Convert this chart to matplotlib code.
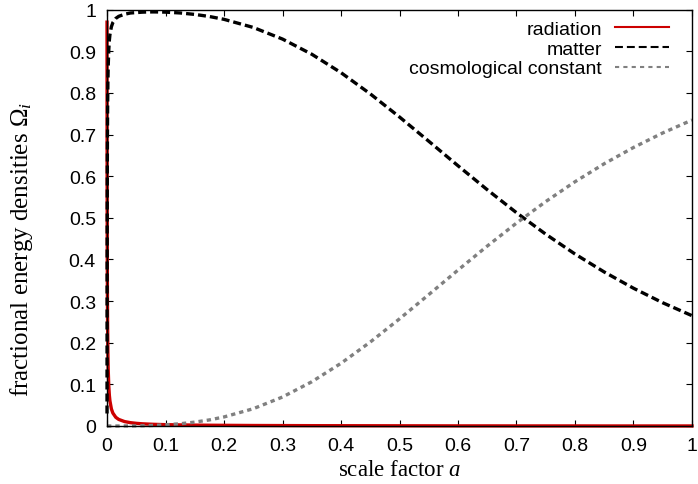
import matplotlib
matplotlib.use("Agg")
import matplotlib.pyplot as plt
from matplotlib.lines import Line2D

# values
scale_factor = [1e-5, 2e-5, 5e-5, 1e-4, 2e-4, 3e-4, 5e-4, 7.5e-4,
                0.001, 0.0015, 0.002, 0.003, 0.004, 0.005, 0.0075,
                0.01, 0.015, 0.02, 0.03, 0.04, 0.05, 0.06, 0.07, 0.08, 0.09, 0.1,
                0.125, 0.15, 0.175, 0.2, 0.25, 0.3, 0.35, 0.4, 0.45, 0.5,
                0.55, 0.6, 0.65, 0.7, 0.75, 0.8, 0.85, 0.9, 0.95, 1.0]
radiation = [0.970, 0.941, 0.865, 0.762, 0.616, 0.517, 0.391, 0.300,
             0.243, 0.176, 0.138, 0.0966, 0.0742, 0.0603, 0.0410,
             0.0311, 0.0209, 0.0158, 0.0106, 0.0080, 0.0064, 0.0053, 0.0046, 0.0040, 0.0036, 0.0032,
             0.0026, 0.0021, 0.0018, 0.0016, 0.0012, 0.0010, 0.0008, 0.0007, 0.0006, 0.0005,
             0.0004, 0.0003, 0.0003, 0.0002, 0.0002, 0.0002, 0.0001, 0.0001, 0.0001, 0.0001]
matter = [0.030, 0.059, 0.135, 0.238, 0.384, 0.483, 0.609, 0.700,
          0.757, 0.824, 0.862, 0.903, 0.926, 0.940, 0.959,
          0.969, 0.979, 0.984, 0.989, 0.992, 0.993, 0.994, 0.9945, 0.9946, 0.9944, 0.9941,
          0.9921, 0.9886, 0.9836, 0.9768, 0.9573, 0.9294, 0.8930, 0.8487, 0.7978, 0.7422,
          0.6840, 0.6251, 0.5675, 0.5123, 0.4607, 0.4131, 0.3699, 0.3309, 0.2960, 0.2650]
cosmo_const = [0, 0, 0, 0, 0, 0, 0, 0,
               0, 0, 0, 0, 0, 0, 0,
               0, 0, 0, 0.0001, 0.0002, 0.0003, 0.0006, 0.0009, 0.0014, 0.0020, 0.0028,
               0.0054, 0.0093, 0.0146, 0.0217, 0.0415, 0.0696, 0.1062, 0.1506, 0.2016, 0.2573,
               0.3156, 0.3745, 0.4322, 0.4874, 0.5391, 0.5867, 0.6300, 0.6690, 0.7039, 0.7349]
ticks = [0, 0.1, 0.2, 0.3, 0.4, 0.5, 0.6, 0.7, 0.8, 0.9, 1]
tick_labels = ["0", "0.1", "0.2", "0.3", "0.4", "0.5", "0.6", "0.7", "0.8", "0.9", "1"]

RED = "#cc0000"
GRAY = "#808080"

plt.rcParams["font.family"] = ["Liberation Sans", "DejaVu Sans"]
plt.rcParams["mathtext.fontset"] = "custom"
plt.rcParams["mathtext.rm"] = "Liberation Serif"
plt.rcParams["mathtext.it"] = "Liberation Serif:italic"

fig = plt.figure(figsize=(6.98, 4.85), dpi=100)
ax = fig.add_axes([0.1533, 0.1196, 0.9914 - 0.1533, 0.978 - 0.1196])

ax.plot(scale_factor, radiation, color=RED, lw=2.4, clip_on=False)
ax.plot(scale_factor, matter, color="black", lw=2.4, dashes=(2.4, 1.2), clip_on=False)
ax.plot(scale_factor, cosmo_const, color=GRAY, lw=2.4, dashes=(1.3, 1.2), clip_on=False)

ax.set_xlim(0, 1)
ax.set_ylim(0, 1)
ax.set_xticks(ticks)
ax.set_xticklabels(tick_labels)
ax.set_yticks(ticks)
ax.set_yticklabels(tick_labels)
ax.tick_params(direction="in", length=4, width=0.8, labelsize=14,
               top=True, right=True, pad=8)
for s in ax.spines.values():
    s.set_linewidth(1.0)

# legend: text on the left, short samples on the right (gnuplot style)
handles = [Line2D([], [], color=RED, lw=1.5),
           Line2D([], [], color="black", lw=1.5, dashes=(3.8, 1.9)),
           Line2D([], [], color=GRAY, lw=1.5, dashes=(2.0, 2.0))]
ax.legend(handles, ["radiation", "matter", "cosmological constant"],
          loc="upper right", bbox_to_anchor=(0.9607, 0.9736), borderaxespad=0,
          borderpad=0, frameon=False, markerfirst=False, fontsize=14,
          handlelength=2.8, handletextpad=0.65, labelspacing=0.1)

fig.text(399.5 / 698, 1 - 476 / 485, "scale factor $a$", family="Liberation Serif",
         fontsize=16.5, ha="center", va="baseline")
fig.text(21.7 / 698, 1 - 249 / 485, r"fractional energy densities $\Omega_i$",
         family="Liberation Serif", fontsize=18, rotation=90, ha="center", va="center")

fig.savefig("out.png", dpi=100)
